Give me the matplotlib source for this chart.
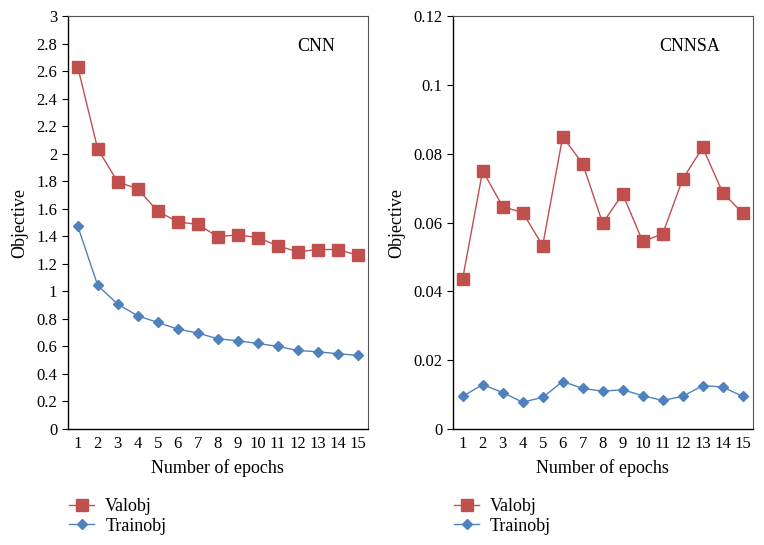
import numpy as np
import matplotlib.pyplot as plt

plt.rcParams['font.family'] = ['Liberation Serif', 'DejaVu Serif']

epochs = np.arange(1, 16)

# CNN
cnn_val = [2.632, 2.035, 1.795, 1.745, 1.582, 1.505, 1.486, 1.398, 1.41, 1.391,
           1.331, 1.287, 1.304, 1.304, 1.263]
cnn_train = [1.476, 1.043, 0.907, 0.823, 0.774, 0.726, 0.697, 0.656, 0.641, 0.622,
             0.600, 0.571, 0.561, 0.547, 0.535]

# CNNSA
cnnsa_val = [0.0437, 0.0751, 0.0646, 0.0629, 0.0533, 0.0849, 0.0771, 0.0598, 0.0683,
             0.0545, 0.0567, 0.0726, 0.0818, 0.0687, 0.0627]
cnnsa_train = [0.0095, 0.0129, 0.0106, 0.0078, 0.0092, 0.0138, 0.0118, 0.0110, 0.0114,
               0.0097, 0.0083, 0.0095, 0.0126, 0.0122, 0.0095]

red = '#C0504D'
blue = '#4F81BD'

fig = plt.figure(figsize=(7.64, 5.45), dpi=100)
ax1 = fig.add_axes([0.0886, 0.2128, 0.3927, 0.7578])
ax2 = fig.add_axes([0.5925, 0.2128, 0.3927, 0.7578])

panels = [
    (ax1, cnn_val, cnn_train, 'CNN', 3, np.arange(0, 3.01, 0.2), 0.0886),
    (ax2, cnnsa_val, cnnsa_train, 'CNNSA', 0.12, np.arange(0, 0.121, 0.02), 0.5925),
]

for ax, val, train, name, ymax, yticks, x0 in panels:
    ax.plot(epochs, val, color=red, marker='s', markersize=8, lw=1, label='Valobj')
    ax.plot(epochs, train, color=blue, marker='D', markersize=5.5, lw=1, label='Trainobj')
    ax.set_xlim(0.5, 15.5)
    ax.set_ylim(0, ymax)
    ax.set_xticks(epochs)
    ax.set_yticks(yticks)
    if ymax == 3:
        ax.set_yticklabels(['0', '0.2', '0.4', '0.6', '0.8', '1', '1.2', '1.4', '1.6',
                            '1.8', '2', '2.2', '2.4', '2.6', '2.8', '3'])
    else:
        ax.set_yticklabels(['0', '0.02', '0.04', '0.06', '0.08', '0.1', '0.12'])
    ax.tick_params(axis='x', length=0, labelsize=12, pad=5)
    ax.tick_params(axis='y', length=4, direction='out', labelsize=12)
    ax.set_xlabel('Number of epochs', fontsize=13, labelpad=5)
    ax.set_ylabel('Objective', fontsize=13, labelpad=6)
    for s in ['top', 'right']:
        ax.spines[s].set_color('#555555')
        ax.spines[s].set_linewidth(0.8)
    for s in ['left', 'bottom']:
        ax.spines[s].set_linewidth(1.0)
    ax.text(0.89, 0.925, name, transform=ax.transAxes, fontsize=13, ha='right', va='center')
    ax.legend(loc='upper left', bbox_to_anchor=(x0 - 0.01, 0.103),
              bbox_transform=fig.transFigure, frameon=False, fontsize=13,
              handlelength=1.4, labelspacing=0.15, borderpad=0, handletextpad=0.6)

plt.savefig('out.png', dpi=100)
